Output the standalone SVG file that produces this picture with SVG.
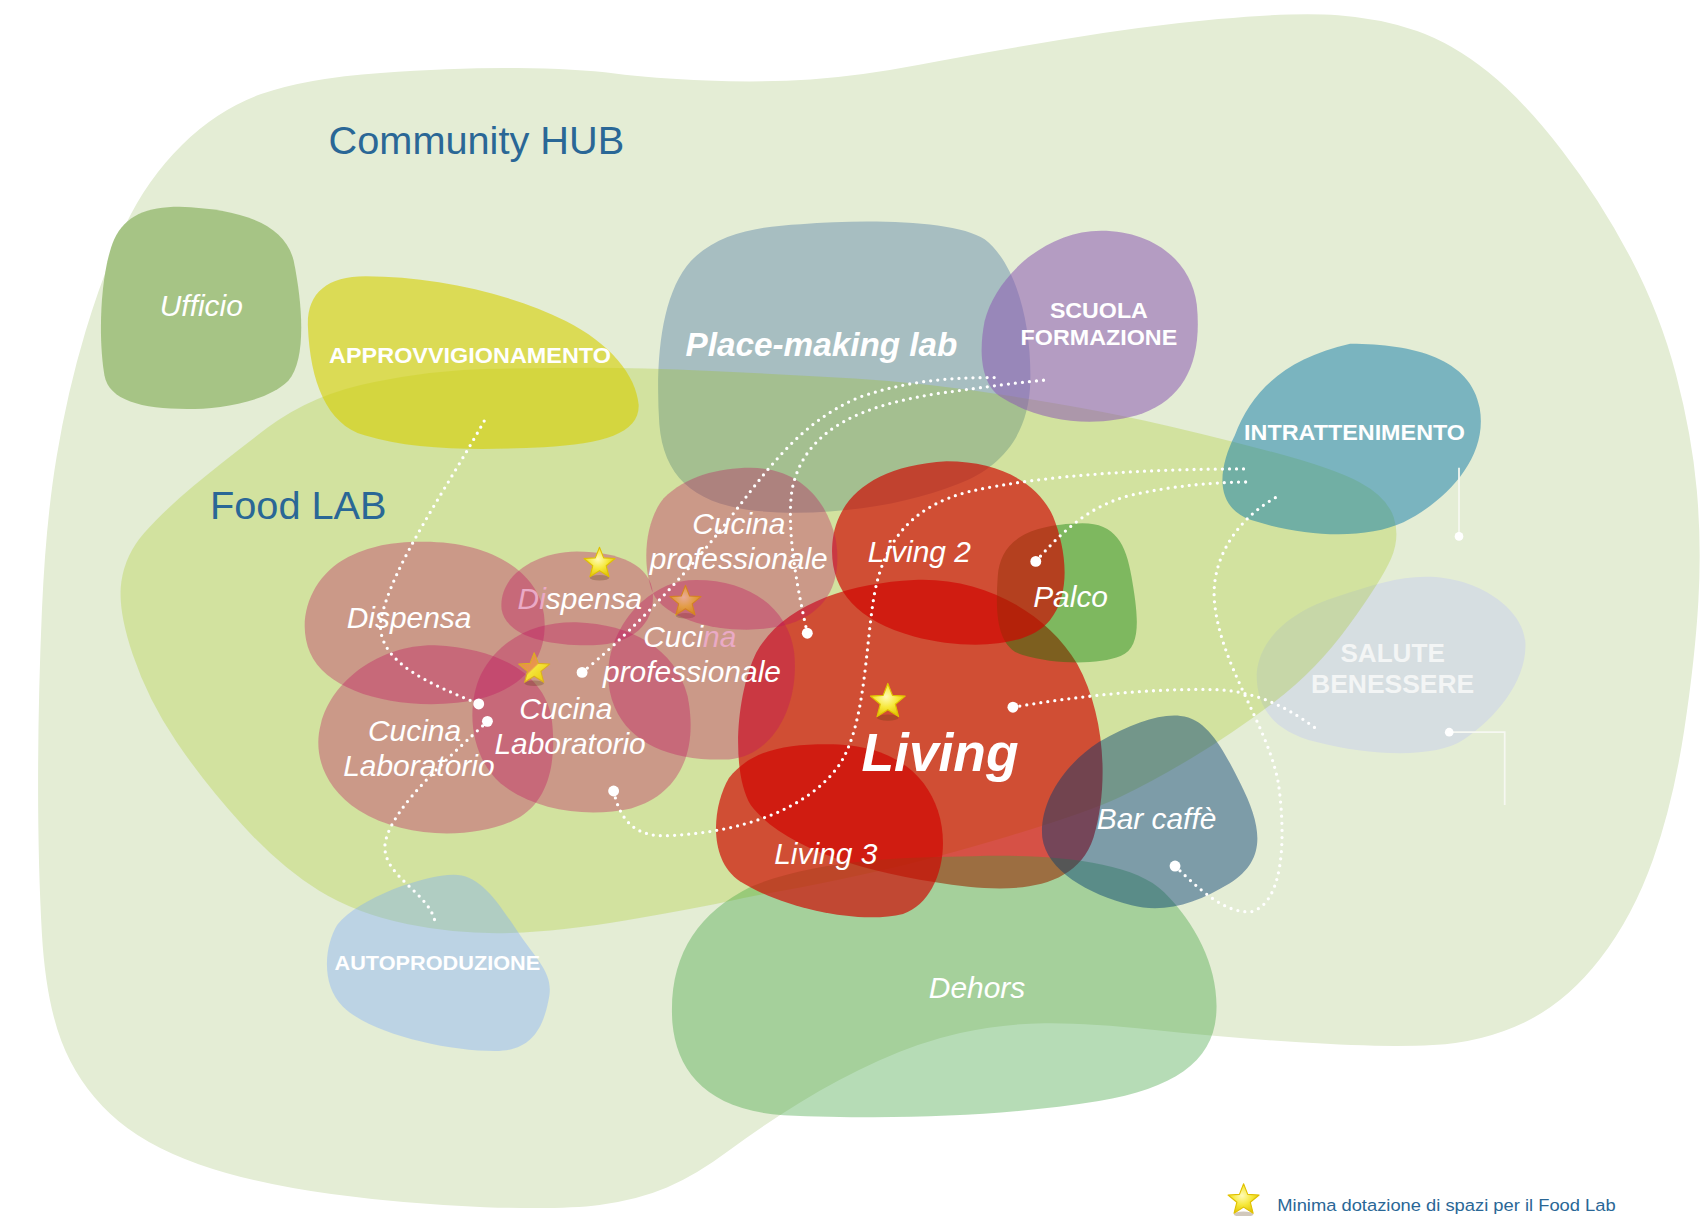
<svg xmlns="http://www.w3.org/2000/svg" width="1706" height="1216" viewBox="0 0 1706 1216">
<defs>
<style>
.lbl{font-family:"Liberation Sans",Arial,sans-serif;font-style:italic;font-size:27.5px;fill:#ffffff;text-anchor:middle}
.cap{font-family:"Liberation Sans",Arial,sans-serif;font-weight:bold;font-size:20px;fill:#ffffff;text-anchor:middle}
.title{font-family:"Liberation Sans",Arial,sans-serif;font-size:36.5px;fill:#2a6796}
.dots{fill:none;stroke:#ffffff;stroke-width:3;stroke-linecap:round;stroke-dasharray:0 6.5}
.end{fill:#ffffff}
.thin{fill:none;stroke:#f6f8f2;stroke-width:1.6}
.pink{fill:#c1125e;fill-opacity:.35}
.red{fill:#cf0500;fill-opacity:.67}
.shadow{fill:#5a3a10;fill-opacity:.28}
.tint{fill:#eaaac6}
</style>
<radialGradient id="gStar" cx="0.45" cy="0.4" r="0.65">
<stop offset="0" stop-color="#fffbb8"/>
<stop offset="0.5" stop-color="#f6e83a"/>
<stop offset="1" stop-color="#e0c000"/>
</radialGradient>
<linearGradient id="gStarHalf" x1="0" y1="0" x2="1" y2="1">
<stop offset="0" stop-color="#e88a4c"/>
<stop offset="0.48" stop-color="#e8964c"/>
<stop offset="0.52" stop-color="#f4e43a"/>
<stop offset="1" stop-color="#e6c800"/>
</linearGradient>
<path id="star" d="M0,-15 L3.82,-5.26 L14.27,-4.64 L6.18,2.01 L8.82,12.14 L0,6.5 L-8.82,12.14 L-6.18,2.01 L-14.27,-4.64 L-3.82,-5.26 Z" stroke-linejoin="round"/>
</defs>
<rect x="0" y="0" width="1706" height="1216" fill="#ffffff"/>
<g transform="scale(1.088)">

<g id="community-hub">
<path fill="#e4edd5" d="M1120,17.5 Q1190,11 1230,14 T1302.5,28.5 T1367.5,66 T1435.5,138 T1498.5,236.5 T1540.5,344.5 T1559.5,450 T1561,552.5 T1548,671 T1519.5,789.5 T1470.5,881.5 T1401.5,939.5 T1317,960.5 T1194.5,958 T1059,946.5 T960,940.5 T882.5,949.5 T807.5,975 T735,1013.5 T670,1057.5 T613,1091.5 T551,1107.5 T445.5,1109.5 T304.5,1097.5 T182.5,1070 T101,1023.5 T56.5,957 T38.5,858 T35,720 T38.5,561.5 T52,420 T78.5,305 T115,207.5 T167.5,133 T240,86.5 T350,67 T475,62.5 T565,67.5 T650,74 T745,73 T845,59.5 T975,36.5 T1120,17.5 Z"/>
<text class="title" x="302" y="142">Community HUB</text>
</g>

<g id="ufficio">
<path fill="#a6c485" d="M165,190 C220,192 262,205 270,240 C278,280 282,330 265,350 C245,370 200,376 172,376 C130,376 100,368 96,345 C90,310 92,250 105,220 C115,198 135,190 165,190 Z"/>
</g>

<g id="place-making-lab">
<path fill="#a7bec1" d="M736,206 C800,201 880,203 905,220 C935,243 948,300 947,350 C946,400 920,430 880,445 C830,465 760,475 700,470 C640,465 610,440 606,390 C602,330 608,270 635,240 C660,213 700,208 736,206 Z"/>
</g>

<g id="salute-benessere">
<path fill="#d6dee1" d="M1310,530 C1360,530 1400,560 1402,590 C1404,625 1375,660 1345,680 C1320,697 1260,695 1210,682 C1170,672 1155,650 1155,620 C1157,585 1190,560 1230,548 C1260,538 1285,530 1310,530 Z"/>
</g>

<g id="food-lab">
<path fill="#9cc500" fill-opacity="0.25" d="M132.5,490 Q150,470 177.5,447 T246,393 T344,351 T450.5,339 T544,338 T654,341 T785.5,348 T925.5,363.5 T1051.5,386.5 T1164,414 T1250,443.5 T1281,475.5 T1278.5,513.5 T1240,574.5 T1171.5,645 T1096.5,696 T1029.5,732.5 T927,768.5 T805.5,801 T728,817 T666.5,829 T574.5,846 T469,857.5 T375,849.5 T293,818.5 T223,758.5 T162,681.5 T122,601.5 T111.5,535 T132.5,490 Z"/>
<text class="title" x="193" y="477">Food LAB</text>
</g>

<g id="approvvigionamento">
<path fill="#d6ce00" fill-opacity="0.6" d="M336,254 C400,254 470,270 520,295 C560,315 585,345 587,372 C588,398 555,408 500,411 C440,414 380,414 335,400 C300,390 285,350 283,300 C282,270 300,254 336,254 Z"/>
</g>

<g id="scuola-formazione">
<path fill="#8d5ab2" fill-opacity="0.55" d="M1012,212 C1060,212 1095,240 1100,280 C1105,330 1090,365 1050,380 C1010,393 960,390 920,365 C900,352 900,320 905,295 C915,255 960,212 1012,212 Z"/>
</g>

<g id="intrattenimento">
<path fill="#107baa" fill-opacity="0.5" d="M1241,316 C1300,316 1352,330 1360,375 C1368,420 1330,460 1290,480 C1255,496 1200,494 1150,478 C1115,466 1120,430 1135,400 C1150,360 1180,330 1241,316 Z"/>
</g>

<g id="autoproduzione">
<path fill="#78a7ff" fill-opacity="0.37" d="M417,804 C440,804 455,825 475,855 C495,885 510,895 504,920 C498,950 485,966 455,966 C410,966 340,950 315,925 C295,905 298,870 310,850 C330,825 390,804 417,804 Z"/>
</g>

<g id="living">
<path class="red" d="M840,533 C900,530 960,560 990,610 C1015,655 1020,720 1005,770 C990,815 940,820 890,815 C800,805 720,780 690,740 C672,710 676,640 695,600 C720,555 780,536 840,533 Z"/>
</g>

<g id="palco">
<path fill="#007a00" fill-opacity="0.4" d="M995,481 C1025,481 1035,500 1040,530 C1046,565 1050,595 1030,603 C1010,611 970,611 940,602 C915,595 915,560 917,530 C919,500 940,482 995,481 Z"/>
</g>

<g id="living-2">
<path class="red" d="M870,424 C920,424 955,445 968,475 C980,505 985,545 965,570 C945,595 890,598 840,585 C785,570 762,540 765,500 C768,460 800,428 870,424 Z"/>
</g>

<g id="dehors">
<path fill="#3a9f39" fill-opacity="0.37" d="M895,787 C960,785 1040,790 1070,820 C1100,850 1120,890 1118,930 C1116,975 1080,1000 1010,1012 C930,1025 830,1030 720,1025 C650,1020 622,985 618,940 C614,880 640,840 690,815 C750,790 830,788 895,787 Z"/>
</g>

<g id="living-3">
<path class="red" d="M760,684 C820,684 850,710 862,745 C875,785 860,830 830,840 C790,850 720,835 680,810 C650,790 655,740 670,715 C690,690 720,684 760,684 Z"/>
</g>

<g id="bar-caffe">
<path fill="#003970" fill-opacity="0.45" d="M1085,658 C1110,660 1125,690 1140,720 C1160,760 1165,790 1130,812 C1100,830 1070,840 1040,832 C1000,822 962,800 958,770 C955,740 975,705 1010,682 C1040,665 1065,656 1085,658 Z"/>
</g>

<g id="dispensa-2">
<path class="pink" d="M530,507 C570,507 598,520 600,545 C602,570 585,592 545,593 C505,594 465,585 461,560 C458,530 490,508 530,507 Z"/>
<g transform="translate(551,518)"><ellipse cx="0" cy="13" rx="9" ry="2.5" class="shadow"/><use href="#star" fill="url(#gStar)" stroke="#e0c000" stroke-width="1"/></g>
</g>

<g id="dispensa-1">
<path class="pink" d="M390,498 C450,498 495,525 500,565 C505,605 480,640 420,646 C360,652 300,635 285,600 C272,570 285,530 320,512 C345,500 365,498 390,498 Z"/>
</g>

<g id="cucina-laboratorio-1">
<path class="pink" d="M400,593 C460,596 500,620 507,660 C512,700 505,740 470,755 C430,772 370,770 330,745 C295,722 288,690 295,665 C305,625 350,592 400,593 Z"/>
</g>

<g id="cucina-laboratorio-2">
<path class="pink" d="M530,572 C580,574 620,595 632,640 C642,690 625,730 580,743 C540,752 490,745 460,720 C432,695 428,650 442,620 C460,585 495,571 530,572 Z"/>
<g transform="translate(491,615)"><ellipse cx="0" cy="13" rx="9" ry="2.5" class="shadow"/><use href="#star" fill="url(#gStarHalf)" stroke="#dcae20" stroke-width="1"/></g>
</g>

<g id="cucina-professionale-2">
<path class="pink" d="M640,533 C690,533 725,560 730,600 C735,650 710,695 670,698 C620,700 580,685 565,650 C550,615 565,575 590,553 C605,540 620,533 640,533 Z"/>
<g transform="translate(630,553)"><ellipse cx="0" cy="13" rx="9" ry="2.5" class="shadow"/><use href="#star" fill="url(#gStar)" stroke="#e0c000" stroke-width="1"/></g>
</g>

<g id="cucina-professionale-1">
<path class="pink" d="M690,430 C735,430 760,460 768,495 C775,535 760,565 720,575 C680,585 615,575 600,545 C590,520 592,480 610,458 C630,438 660,430 690,430 Z"/>
</g>

<g id="living-star">
<g transform="translate(816,645) scale(1.12)"><ellipse cx="0" cy="13" rx="9" ry="2.5" class="shadow"/><use href="#star" fill="url(#gStar)" stroke="#e0c000" stroke-width="1"/></g>
</g>

<g id="labels">
<text id="label-ufficio" class="lbl" x="185" y="290">Ufficio</text>
<text id="label-place-making-lab" class="lbl" x="755" y="327" style="font-weight:bold;font-size:30px" textLength="250" lengthAdjust="spacingAndGlyphs">Place-making lab</text>
<text id="label-approvvigionamento" class="cap" x="432" y="334" textLength="259" lengthAdjust="spacingAndGlyphs">APPROVVIGIONAMENTO</text>
<g id="label-scuola-formazione">
<text class="cap" x="1010" y="292" textLength="90" lengthAdjust="spacingAndGlyphs">SCUOLA</text>
<text class="cap" x="1010" y="317" textLength="144" lengthAdjust="spacingAndGlyphs">FORMAZIONE</text>
</g>
<text id="label-intrattenimento" class="cap" x="1245" y="404" textLength="203" lengthAdjust="spacingAndGlyphs">INTRATTENIMENTO</text>
<g id="label-salute-benessere">
<text class="cap" x="1280" y="608" style="font-size:24px;fill:#f3f5f5" textLength="96" lengthAdjust="spacingAndGlyphs">SALUTE</text>
<text class="cap" x="1280" y="637" style="font-size:24px;fill:#f3f5f5" textLength="150" lengthAdjust="spacingAndGlyphs">BENESSERE</text>
</g>
<text id="label-autoproduzione" class="cap" x="402" y="892" style="font-size:18px" textLength="189" lengthAdjust="spacingAndGlyphs">AUTOPRODUZIONE</text>
<text id="label-dispensa-1" class="lbl" x="376" y="577">Dispensa</text>
<text id="label-dispensa-2" class="lbl" x="533" y="560"><tspan class="tint">Di</tspan>spensa</text>
<g id="label-cucina-professionale-1">
<text class="lbl" x="679" y="491">Cucina</text>
<text class="lbl" x="679" y="523">professionale</text>
</g>
<g id="label-cucina-professionale-2">
<text class="lbl" x="634" y="595">Cuci<tspan class="tint">na</tspan></text>
<text class="lbl" x="636" y="627">professionale</text>
</g>
<g id="label-cucina-laboratorio-1">
<text class="lbl" x="381" y="681">Cucina</text>
<text class="lbl" x="385" y="713">Laboratorio</text>
</g>
<g id="label-cucina-laboratorio-2">
<text class="lbl" x="520" y="661">Cucina</text>
<text class="lbl" x="524" y="693">Laboratorio</text>
</g>
<text id="label-living-2" class="lbl" x="845" y="517">Living 2</text>
<text id="label-palco" class="lbl" x="984" y="558">Palco</text>
<text id="label-living" class="lbl" x="864" y="709" style="font-weight:bold;font-size:49px">Living</text>
<text id="label-living-3" class="lbl" x="759" y="794">Living 3</text>
<text id="label-bar-caffe" class="lbl" x="1063" y="762">Bar caffè</text>
<text id="label-dehors" class="lbl" x="898" y="917">Dehors</text>
</g>

<g id="connectors">
<path class="dots" d="M445,387 C410,450 360,520 350,570 C345,610 400,630 440,647"/>
<path class="dots" d="M448,663 C420,690 360,740 354,775 C350,805 395,820 400,848"/>
<path class="dots" d="M535,618 C570,590 620,540 660,490 C700,440 730,390 790,365 C840,348 880,347 920,347"/>
<path class="dots" d="M742,582 C735,550 722,490 728,450 C740,390 800,372 860,362 C910,355 940,351 965,349"/>
<path class="dots" d="M952,516 C975,490 1000,465 1040,455 C1080,446 1120,443 1148,443"/>
<path class="dots" d="M564,727 C570,755 585,770 615,768 C680,765 740,745 770,705 C795,670 795,600 803,550 C812,495 840,465 890,452 C960,436 1060,431 1145,431"/>
<path class="dots" d="M931,650 C990,640 1060,632 1120,634 C1160,636 1190,655 1210,670"/>
<path class="dots" d="M1080,796 C1100,815 1125,840 1150,838 C1180,830 1182,770 1175,720 C1165,665 1120,610 1116,550 C1114,510 1140,475 1173,457"/>
<path class="thin" d="M1341,430 L1341,493"/>
<path class="thin" d="M1332,673 L1383,673 L1383,740"/>
<circle class="end" cx="440" cy="647" r="5"/>
<circle class="end" cx="448" cy="663" r="5"/>
<circle class="end" cx="535" cy="618" r="5"/>
<circle class="end" cx="742" cy="582" r="5"/>
<circle class="end" cx="952" cy="516" r="5"/>
<circle class="end" cx="564" cy="727" r="5"/>
<circle class="end" cx="931" cy="650" r="5"/>
<circle class="end" cx="1080" cy="796" r="5"/>
<circle class="end" cx="1341" cy="493" r="4"/>
<circle class="end" cx="1332" cy="673" r="4"/>
</g>

<g id="legend">
<g transform="translate(1143,1103)"><ellipse cx="0" cy="13" rx="9" ry="2.5" class="shadow"/><use href="#star" fill="url(#gStar)" stroke="#e0c000" stroke-width="1"/></g>
<text x="1174" y="1113" style="font-family:'Liberation Sans',Arial,sans-serif;font-size:16px;fill:#2a6796" textLength="311" lengthAdjust="spacingAndGlyphs">Minima dotazione di spazi per il Food Lab</text>
</g>

</g>
</svg>
